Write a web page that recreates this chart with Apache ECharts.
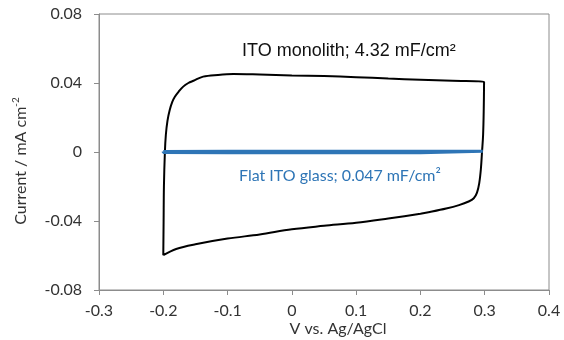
<!DOCTYPE html>
<html>
<head>
<meta charset="utf-8">
<script src="https://cdn.jsdelivr.net/npm/echarts@6/dist/echarts.min.js"></script>
<style>
html, body { margin: 0; padding: 0; background: #fff; }
#cv { width: 564px; height: 340px; }
</style>
</head>
<body>
<div id="cv"></div>
<script>
// ITO monolith CV loop (V vs Ag/AgCl, mA cm-2)
var monolithV = [-0.2, -0.1995, -0.199, -0.1975, -0.196, -0.1935, -0.19, -0.186, -0.182, -0.176, -0.169, -0.161, -0.153, -0.138, -0.115, -0.091,
  -0.05, 0.0, 0.05, 0.1, 0.15, 0.2, 0.25, 0.299,
  0.2985, 0.2975, 0.2958, 0.294, 0.2915, 0.288, 0.283, 0.275, 0.26, 0.24, 0.2146,
  0.2, 0.15, 0.1, 0.05, 0.0, -0.05, -0.1, -0.15, -0.18, -0.2];
var monolithI = [-0.0598, -0.04, -0.02, 0.0, 0.010, 0.018, 0.0243, 0.029, 0.032, 0.035, 0.0379, 0.040, 0.0413, 0.0437, 0.0447, 0.0452,
  0.0449, 0.0444, 0.044, 0.0434, 0.0426, 0.0419, 0.0413, 0.0407,
  0.025, 0.010, 0.0, -0.010, -0.018, -0.0235, -0.0268, -0.0287, -0.0308, -0.0328, -0.0348,
  -0.0358, -0.0385, -0.041, -0.0428, -0.0448, -0.0478, -0.0502, -0.0535, -0.0562, -0.0598];

// flat ITO glass CV loop
var glassV = [-0.2, -0.1, 0.0, 0.1, 0.2, 0.297, 0.297, 0.2, 0.1, 0.0, -0.1, -0.2, -0.2];
var glassI = [0.0003, 0.0004, 0.0004, 0.0004, 0.0004, 0.0004, -0.0003, -0.0004, -0.0004, -0.0004, -0.0004, -0.0003, 0.0003];

var xRange = [-0.3, 0.4, 0.1];
var yRange = [-0.08, 0.08, 0.04];

function pairs(xs, ys) {
  return xs.map(function (x, i) { return [x, ys[i]]; });
}

var chart = echarts.init(document.getElementById('cv'));
chart.setOption({
  animation: false,
  grid: { left: 99, right: 15, top: 14, bottom: 50, show: true, borderColor: '#8c8c8c', borderWidth: 1 },
  xAxis: {
    type: 'value',
    min: xRange[0], max: xRange[1], interval: xRange[2],
    axisLine: { onZero: false, lineStyle: { color: '#8c8c8c' } },
    axisTick: { show: true, length: 5, lineStyle: { color: '#8c8c8c' } },
    splitLine: { show: false },
    axisLabel: {
      margin: 13, color: '#333', fontFamily: 'Lato', fontSize: 16,
      formatter: function (v) { return String(+v.toFixed(2)); }
    }
  },
  yAxis: {
    type: 'value',
    min: yRange[0], max: yRange[1], interval: yRange[2],
    axisLine: { show: true, onZero: false, lineStyle: { color: '#8c8c8c' } },
    axisTick: { show: true, length: 5, lineStyle: { color: '#8c8c8c' } },
    splitLine: { show: false },
    axisLabel: {
      margin: 17, color: '#333', fontFamily: 'Lato', fontSize: 16,
      formatter: function (v) { return String(+v.toFixed(2)); }
    }
  },
  series: [
    {
      type: 'line', data: pairs(monolithV, monolithI), showSymbol: false, smooth: 0.35,
      lineStyle: { color: '#000', width: 2 }
    },
    {
      type: 'line', data: pairs(glassV, glassI), showSymbol: false,
      lineStyle: { color: '#2E75B6', width: 3 }
    }
  ],
  graphic: [
    {
      type: 'text', left: 242, top: 42,
      style: { text: 'ITO monolith; 4.32 mF/cm²', fill: '#111', font: '18px "Liberation Sans", Arial' }
    },
    {
      type: 'text', left: 239, top: 168,
      style: { text: 'Flat ITO glass; 0.047 mF/cm²', fill: '#2E75B6', font: '16px Lato' }
    },
    {
      type: 'text', x: 338, y: 329,
      style: { text: 'V vs. Ag/AgCl', fill: '#333', font: '16px Lato', align: 'center', verticalAlign: 'middle' }
    },
    {
      type: 'text', x: 21, y: 161, rotation: Math.PI / 2,
      style: {
        text: '{a|Current / mA cm}{s|-2}', align: 'center', verticalAlign: 'middle',
        rich: {
          a: { fill: '#333', fontFamily: 'Lato', fontSize: 16, lineHeight: 20 },
          s: { fill: '#333', fontFamily: 'Lato', fontSize: 10, verticalAlign: 'top', lineHeight: 20 }
        }
      }
    }
  ]
});
</script>
</body>
</html>
